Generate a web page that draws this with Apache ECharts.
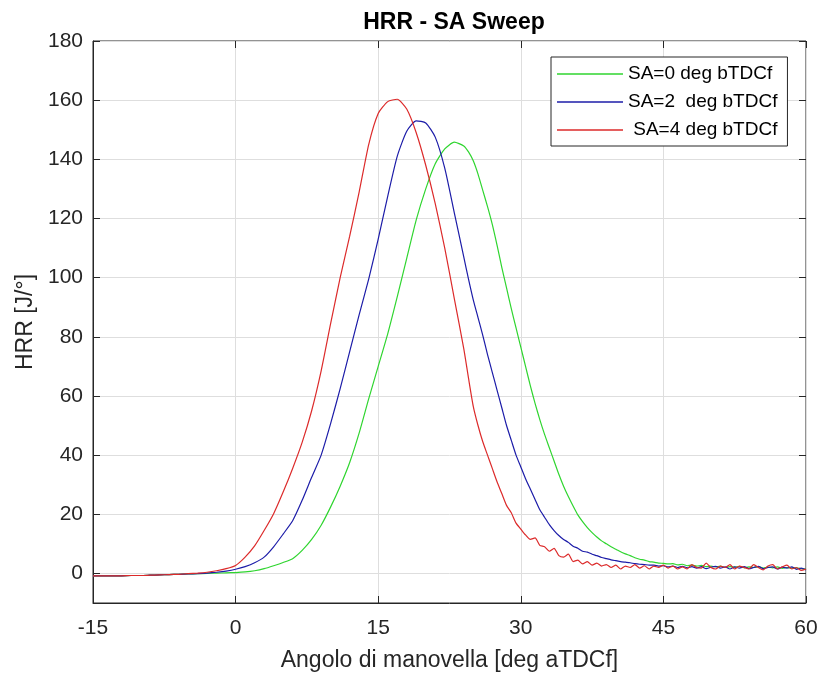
<!DOCTYPE html>
<html>
<head>
<meta charset="utf-8">
<title>HRR - SA Sweep</title>
<script src="https://cdn.jsdelivr.net/npm/echarts@6/dist/echarts.min.js"></script>
<style>
  html, body { margin: 0; padding: 0; background: #fff; }
  #chart { width: 819px; height: 673px; }
</style>
</head>
<body>
<div id="chart"></div>
<script>
'use strict';

// angolo di manovella [deg aTDCf]
var angle = [
  -15, -14, -13, -12, -11, -10, -9, -8, -7, -6,
  -5, -4, -3, -2, -1, 0, 1, 2, 3, 4,
  5, 6, 7, 8, 9, 10, 11, 12, 13, 14,
  15, 16, 17, 18, 19, 20, 21, 22, 23, 24,
  24.5, 25, 25.5, 26, 26.5, 27, 27.5, 28, 28.5, 29, 29.5,
  30, 30.5, 31, 31.5, 32, 32.5, 33, 33.5, 34, 34.5,
  35, 35.5, 36, 36.5, 37, 37.5, 38, 38.5, 39, 39.5,
  40, 40.5, 41, 41.5, 42, 42.5, 43, 43.5, 44, 44.5,
  45, 45.5, 46, 46.5, 47, 47.5, 48, 48.5, 49, 49.5,
  50, 50.5, 51, 51.5, 52, 52.5, 53, 53.5, 54, 54.5,
  55, 55.5, 56, 56.5, 57, 57.5, 58, 58.5, 59, 59.5,
  60
];

// HRR [J/deg], SA = 0 deg bTDCf
var hrrSA0 = [
  -0.8, -0.8, -0.8, -0.8, -0.7, -0.7, -0.6, -0.5, -0.4, -0.3,
  -0.2, -0.1, 0, 0.1, 0.2, 0.3, 0.5, 0.9, 1.6, 2.6,
  3.7, 5, 7.8, 11.5, 16.3, 22.5, 29.5, 37.5, 47.5, 59,
  70, 81, 93.5, 106.5, 119.5, 130, 138.5, 143.5, 145.8, 144.5,
  142.5, 139.5, 135, 129.5, 124, 118, 111, 103.5, 96.5, 89.5, 83,
  76.5, 70, 63.5, 57.5, 52, 47, 42.5, 38, 33.5, 29.5,
  26, 22.8, 19.8, 17.5, 15.5, 13.8, 12.3, 11, 10, 9,
  8.2, 7.3, 6.6, 6, 5.3, 4.8, 4.5, 4, 3.8, 3.5,
  3.4, 3.2, 3.3, 2.9, 3.1, 2.6, 2.8, 2.5, 2.7, 2.3,
  2.5, 2.2, 2.5, 2, 2.3, 2.1, 2.4, 1.9, 2.2, 2,
  2.3, 1.8, 2.1, 1.9, 2.2, 1.7, 2, 1.8, 1.9, 1.6,
  1.5
];

// HRR [J/deg], SA = 2 deg bTDCf
var hrrSA2 = [
  -0.8, -0.8, -0.8, -0.8, -0.7, -0.7, -0.6, -0.5, -0.4, -0.3,
  -0.2, -0.1, 0.1, 0.4, 0.8, 1.4, 2.3, 3.6, 5.5, 9,
  13.3, 17.8, 24.7, 32.5, 40, 50.7, 62.5, 75, 87.5, 99.5,
  113, 127.5, 141, 149.5, 153, 152.3, 147.5, 137, 122, 107,
  99.5, 92.5, 86.5, 80.5, 74, 68, 62, 56, 50, 45, 40,
  36, 32, 28.5, 25, 21.5, 19, 16.5, 14.5, 12.8, 11.5,
  10.5, 9.2, 8.5, 7.5, 7.2, 6.5, 6, 5.4, 5, 4.6,
  4.3, 4, 3.8, 3.6, 3.3, 3.1, 3, 2.8, 2.8, 2.5,
  2.6, 2.2, 2.5, 2, 2.4, 1.9, 2.3, 1.8, 2.3, 1.6,
  2.1, 2.4, 1.8, 2.2, 1.5, 2.2, 1.8, 2.3, 1.6, 2,
  2.4, 1.6, 2, 2.2, 1.5, 2.1, 1.8, 2.2, 1.4, 1.8,
  1.2
];

// HRR [J/deg], SA = 4 deg bTDCf
var hrrSA4 = [
  -0.8, -0.8, -0.8, -0.8, -0.7, -0.7, -0.6, -0.5, -0.4, -0.3,
  -0.1, 0.1, 0.4, 0.9, 1.6, 2.7, 5.5, 9.3, 14.5, 20.2,
  27.5, 35.5, 44.3, 55, 68.5, 84.5, 100, 114, 129, 145,
  155.5, 159.5, 160.3, 157, 149, 138, 125, 110, 93, 76,
  66, 56.5, 50, 44.5, 40, 35.5, 31, 27, 23, 20.5, 17,
  15, 13, 11.5, 12, 9.5, 9, 7.5, 8.5, 6, 5.5,
  6.5, 4, 4.5, 3.2, 4, 2.8, 3.5, 2.5, 3, 2,
  2.8, 1.5, 2.5, 2, 3, 1.8, 2.6, 1.5, 2.5, 2,
  2.8, 1.8, 2.5, 1.5, 2.2, 1.5, 3, 2, 1.8, 3.5,
  2, 1.5, 2.5, 2, 3, 1.5, 2.5, 2, 1.5, 3,
  2, 1.2, 2.5, 3, 1.5, 2.2, 2.8, 1.5, 2, 1,
  1.5
];

var seriesNames = ['SA=0 deg bTDCf', 'SA=2  deg bTDCf', ' SA=4 deg bTDCf'];
var seriesColors = ['#2fd52f', '#1c1ca8', '#dc2a2a'];

function pairs(ys) {
  return angle.map(function (x, i) { return [x, ys[i]]; });
}

var axisColor = '#262626';
var gridColor = '#dedede';
var font = 'Liberation Sans';

var myChart = echarts.init(document.getElementById('chart'));

var option = {
  animation: false,
  backgroundColor: '#fff',
  title: {
    text: 'HRR - SA Sweep',
    left: 449,
    textAlign: 'center',
    top: 6,
    textStyle: { fontFamily: font, fontSize: 23, fontWeight: 'bold', color: '#000' }
  },
  legend: {
    orient: 'vertical',
    left: 551,
    top: 57,
    padding: [6, 10, 5, 6],
    itemGap: 6,
    itemWidth: 66,
    itemHeight: 1.5,
    icon: 'rect',
    backgroundColor: '#fff',
    borderColor: axisColor,
    borderWidth: 1,
    borderRadius: 0,
    data: seriesNames,
    textStyle: { fontFamily: font, fontSize: 19, color: '#000', lineHeight: 22 }
  },
  grid: {
    left: 93,
    right: 13,
    top: 41,
    bottom: 70,
    outerBoundsMode: 'none',
    containLabel: false,
    show: true,
    borderColor: axisColor,
    borderWidth: 1
  },
  xAxis: [{
    type: 'value',
    min: -15,
    max: 60,
    interval: 15,
    name: 'Angolo di manovella [deg aTDCf]',
    nameLocation: 'middle',
    nameGap: 46,
    nameTextStyle: { fontFamily: font, fontSize: 23, color: axisColor },
    axisLine: { onZero: false, lineStyle: { color: axisColor } },
    axisTick: { inside: true, length: 7, lineStyle: { color: axisColor } },
    axisLabel: { fontFamily: font, fontSize: 21, color: axisColor, margin: 15 },
    splitLine: { show: true, lineStyle: { color: gridColor } }
  }, {
    type: 'value',
    position: 'top',
    min: -15,
    max: 60,
    interval: 15,
    axisLine: { show: false, onZero: false },
    axisTick: { inside: true, length: 7, lineStyle: { color: axisColor } },
    axisLabel: { show: false },
    splitLine: { show: false }
  }],
  yAxis: [{
    type: 'value',
    min: -10,
    max: 180,
    splitNumber: 10,
    name: 'HRR [J/°]',
    nameLocation: 'middle',
    nameRotate: 90,
    nameGap: 52,
    nameTextStyle: { fontFamily: font, fontSize: 23, color: axisColor },
    axisLine: { show: true, onZero: false, lineStyle: { color: axisColor } },
    axisTick: { show: true, inside: true, length: 7, lineStyle: { color: axisColor } },
    axisLabel: {
      fontFamily: font, fontSize: 21, color: axisColor, margin: 10,
      formatter: function (v) { return v < 0 ? '' : String(v); }
    },
    splitLine: { show: true, lineStyle: { color: gridColor } }
  }, {
    type: 'value',
    position: 'right',
    min: -10,
    max: 180,
    splitNumber: 10,
    axisLine: { show: false, onZero: false },
    axisTick: { show: true, inside: true, length: 7, lineStyle: { color: axisColor } },
    axisLabel: { show: false },
    splitLine: { show: false }
  }],
  series: [hrrSA0, hrrSA2, hrrSA4].map(function (ys, i) {
    return {
      name: seriesNames[i],
      type: 'line',
      xAxisIndex: 0,
      yAxisIndex: 0,
      symbol: 'none',
      smooth: 0.2,
      color: seriesColors[i],
      lineStyle: { width: 1.2, color: seriesColors[i] },
      data: pairs(ys)
    };
  })
};

myChart.setOption(option);
</script>
</body>
</html>
